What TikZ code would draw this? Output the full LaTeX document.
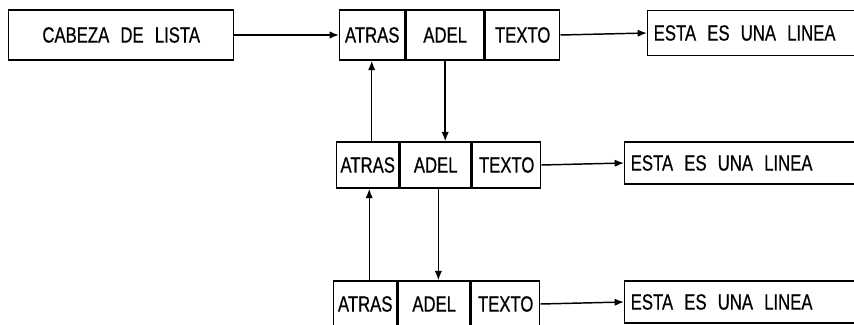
\documentclass[tikz,border=0pt]{standalone}
\usepackage{fontspec}
\usepackage{tikz}
\usetikzlibrary{positioning,arrows.meta}
\newfontfamily\rotulo[FakeStretch=0.76,WordSpace=2.4,FakeBold=0.6]{Liberation Sans}
\newcommand{\px}{0.75pt}
\newcommand{\linea}{\makebox[260pt][l]{ESTA ES UNA LINEA}}
\tikzset{
	celda/.style={draw=black,line width=1.1pt,inner sep=0pt,anchor=west,
		minimum height=46*\px,font=\rotulo\fontsize{16.5}{18}\selectfont},
	caja/.style={draw=black,line width=1.1pt,inner xsep=4.5pt,inner ysep=0pt,
		anchor=west,font=\rotulo\fontsize{16.5}{18}\selectfont},
	flecha/.style={line width=1.1pt,-{Latex[length=7pt,width=5.5pt]}},
}
\begin{document}
\begin{tikzpicture}[x=0.75pt,y=-0.75pt]
	\useasboundingbox (0,0) rectangle (854,325);
	% cabeza
	\node[celda,minimum width=225*\px,minimum height=50*\px] (cab) at (8,35) {CABEZA DE LISTA};
	% primer registro
	\node[celda,minimum width=65*\px,minimum height=50*\px] (r1a) at (339,35) {ATRAS};
	\node[celda,minimum width=78*\px,minimum height=50*\px,right=0pt of r1a] (r1d) {ADEL};
	\node[celda,minimum width=74*\px,minimum height=50*\px,right=0pt of r1d] (r1t) {TEXTO};
	\node[caja,minimum height=45*\px] (l1) at (647,33) {\linea};
	% segundo registro
	\node[celda,minimum width=62*\px] (r2a) at (336,165) {ATRAS};
	\node[celda,minimum width=71*\px,right=0pt of r2a] (r2d) {ADEL};
	\node[celda,minimum width=68*\px,right=0pt of r2d] (r2t) {TEXTO};
	\node[caja,minimum height=42*\px] (l2) at (624,163) {\linea};
	% tercer registro
	\node[celda,minimum width=63*\px] (r3a) at (333,304) {ATRAS};
	\node[celda,minimum width=72*\px,right=0pt of r3a] (r3d) {ADEL};
	\node[celda,minimum width=68*\px,right=0pt of r3d] (r3t) {TEXTO};
	\node[caja,minimum height=42*\px] (l3) at (624,302) {\linea};
	% enlaces
	\draw[flecha] (cab.east) -- (r1a.west);
	\draw[flecha] (r1t.east) -- (l1.west);
	\draw[flecha] (r2t.east) -- (l2.west);
	\draw[flecha] (r3t.east) -- (l3.west);
	\coordinate (u1) at ([xshift=3pt]r2a.north);
	\coordinate (u2) at ([xshift=3pt]r3a.north);
	\draw[flecha] (u1) -- (u1 |- r1a.south);
	\draw[flecha] (u2) -- (u2 |- r2a.south);
	\draw[flecha] (r1d.south) -- (r1d.south |- r2d.north);
	\draw[flecha] ([xshift=2pt]r2d.south) -- ([xshift=2pt]r2d.south |- r3d.north);
\end{tikzpicture}
\end{document}
